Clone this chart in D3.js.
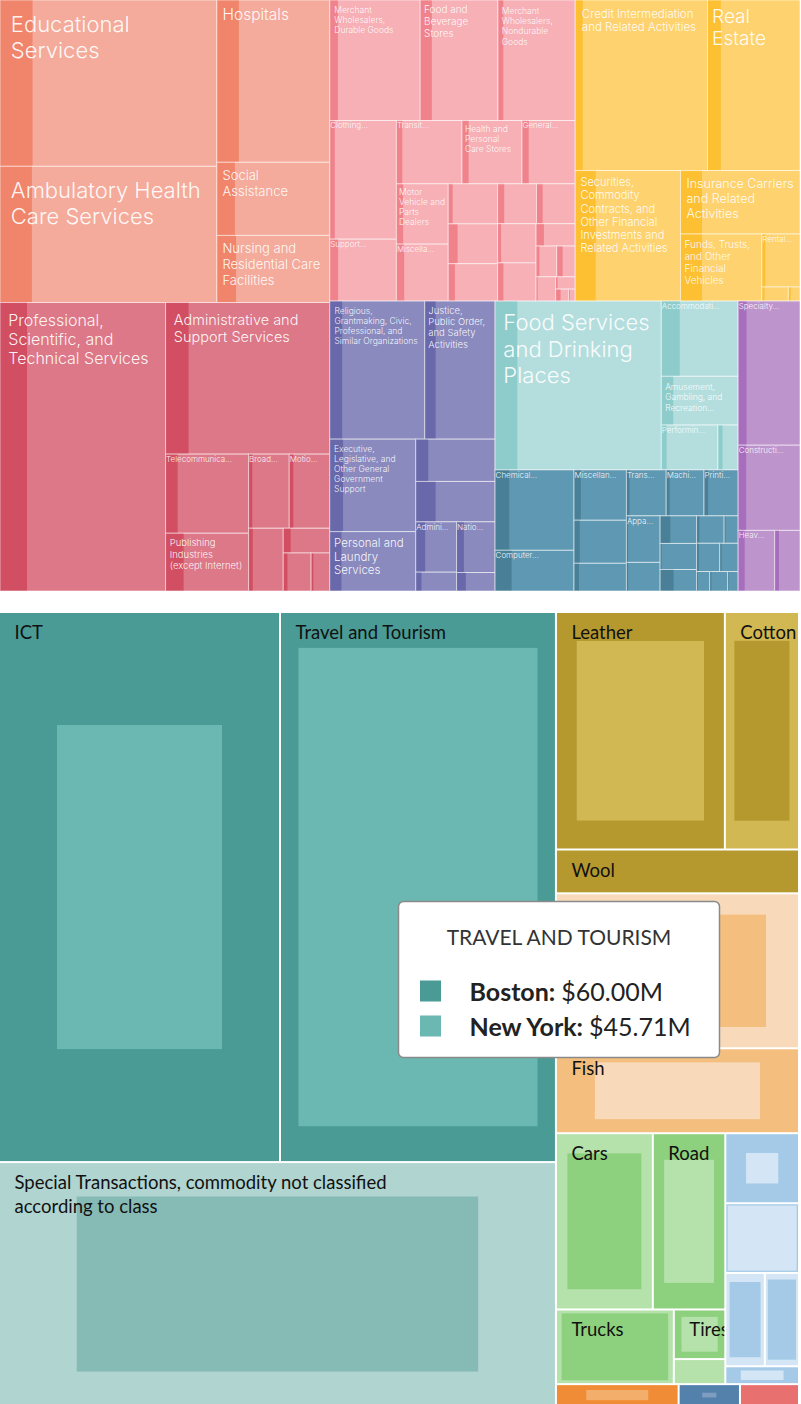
<!DOCTYPE html>
<html><head><meta charset="utf-8">
<script src="https://cdn.jsdelivr.net/npm/d3@7"></script>
<style>
html,body{margin:0;padding:0;background:#fff;}
svg{display:block;}
</style></head><body>
<svg id="chart" width="801" height="1404"></svg>
<script>
// ================= DATA: industry treemap (top) =================
const topGroups = ["Education and Health", "Professional, Business and Information Services", "Trade and Transportation", "Finance, Insurance and Real Estate", "Public Administration and Other Services", "Leisure and Hospitality", "Manufacturing", "Construction"];

const healthNames = ["Educational Services", "Ambulatory Health Care Services", "Hospitals", "Social Assistance", "Nursing and Residential Care Facilities"];
const healthValues = [36022, 29512, 18306, 8249, 7571];
const healthShares = [0.15, 0.147, 0.195, 0.16, 0.17];

const proNames = ["Professional, Scientific, and Technical Services", "Administrative and Support Services", "Telecommunications", "Publishing Industries (except Internet)", "Broadcasting (except Internet)", "Motion Picture and Sound Recording Industries", "", "", "", ""];
const proValues = [47722, 24859, 6557, 4789, 3010, 3000, 2173, 1150, 1058, 708];
const proShares = [0.163, 0.14, 0.145, 0.217, 0.09, 0.1, 0.12, 0.16, 0.15, 0.12];

const tradeNames = ["Merchant Wholesalers, Durable Goods", "Food and Beverage Stores", "Merchant Wholesalers, Nondurable Goods", "Clothing and Clothing Accessories Stores", "Support Activities for Transportation", "Transit and Ground Passenger Transportation", "Health and Personal Care Stores", "General Merchandise Stores", "Motor Vehicle and Parts Dealers", "Miscellaneous Store Retailers", "", "", "", "", "", "", "", "", "", "", "", "", "", ""];
const tradeValues = [10884, 9360, 9300, 7900, 4120, 4150, 3798, 3368, 3120, 2948, 1975, 1965, 1843, 1548, 1542, 1505, 1467, 874, 635, 568, 473, 240, 156, 78];
const tradeShares = [0.09, 0.15, 0.07, 0.075, 0.125, 0.09, 0.11, 0.126, 0.13, 0.15, 0.09, 0.19, 0.135, 0.17, 0.16, 0.09, 0.15, 0.2, 0.16, 0.32, 0.08, 0.1, 0.38, 0.2];

const financeNames = ["Credit Intermediation and Related Activities", "Real Estate", "Securities, Commodity Contracts, and Other Financial Investments and Related Activities", "Insurance Carriers and Related Activities", "Funds, Trusts, and Other Financial Vehicles", "Rental and Leasing Services", "", ""];
const financeValues = [22542, 15759, 13728, 7577, 5449, 2018, 372, 164];
const financeShares = [0.057, 0.144, 0.195, 0.18, 0.265, 0.09, 0.1, 0.2];

const publicNames = ["Religious, Grantmaking, Civic, Professional, and Similar Organizations", "Justice, Public Order, and Safety Activities", "Executive, Legislative, and Other General Government Support", "Personal and Laundry Services", "", "", "Administration of Human Resource Programs", "", "National Security and International Affairs", ""];
const publicValues = [13100, 9700, 7946, 5100, 3350, 3200, 2050, 767, 1949, 711];
const publicShares = [0.13, 0.155, 0.155, 0.136, 0.157, 0.25, 0.23, 0.14, 0.19, 0.24];

const leisureNames = ["Food Services and Drinking Places", "Accommodation", "Amusement, Gambling, and Recreation Industries", "Performing Arts, Spectator Sports, and Related Industries", "Museums, Historical Sites, and Similar Institutions"];
const leisureValues = [28039, 5775, 3742, 2534, 907];
const leisureShares = [0.134, 0.24, 0.156, 0.094, 0.23];

const mfgNames = ["Chemical Manufacturing", "Computer and Electronic Product Manufacturing", "Miscellaneous Manufacturing", "", "", "Transportation Equipment Manufacturing", "Machinery Manufacturing", "Printing and Related Support Activities", "Apparel Manufacturing", "", "", "", "", "", "", "", "", "", "", ""];
const mfgValues = [6342, 3210, 2636, 2253, 1451, 1828, 1737, 1568, 1566, 964, 1003, 948, 782, 756, 384, 653, 520, 255, 350, 205];
const mfgShares = [0.18, 0.21, 0.13, 0.11, 0.095, 0.08, 0.09, 0.12, 0.05, 0.05, 0.28, 0.04, 0.37, 0.1, 0.1, 0.1, 0.1, 0.1, 0.1, 0.1];

const constructionNames = ["Specialty Trade Contractors", "Construction of Buildings", "Heavy and Civil Engineering Construction", ""];
const constructionValues = [8903, 5263, 2209, 1536];
const constructionShares = [0.136, 0.13, 0.18, 0.17];

// ================= DATA: trade comparison treemap (bottom) =================
const productGroups = ["Services", "Textiles", "Animal Products", "Transportation", "Machinery", "Metals", "Chemicals", "Minerals"];
const products = ["ICT", "Travel and Tourism", "Special Transactions, commodity not classified according to class", "Leather", "Cotton", "Wool", "", "Fish", "Cars", "Road", "Trucks", "Tires", "", "", "", "", "", "", "", "", ""];
const productGroupIndex = [0, 0, 0, 1, 1, 1, 2, 2, 3, 3, 3, 3, 3, 4, 4, 4, 4, 4, 5, 6, 7];
const bostonValues = [61.10, 60.00, 28.10, 15.86, 4.06, 4.21, 8.04, 8.16, 4.10, 5.05, 2.94, 1.01, 0, 2.04, 2.03, 0.99, 0.97, 0.52, 1.06, 0.53, 0.51];
const newYorkValues = [21.37, 45.71, 53.70, 9.22, 6.96, 0, 14.89, 3.83, 6.75, 2.52, 3.48, 0.54, 0.51, 0.41, 1.88, 1.46, 1.26, 0.185, 0.28, 0.03, 0];
const cities = ["Boston", "New York"];
const tooltipProduct = "Travel and Tourism";

// ================= STYLES =================
const topPalette = [
  {cell: "#F4AB9B", bar: "#F0856C"},
  {cell: "#DC7887", bar: "#D24E62"},
  {cell: "#F6B0B6", bar: "#F0828C"},
  {cell: "#FED26E", bar: "#FCC032"},
  {cell: "#8A8ABE", bar: "#6868AA"},
  {cell: "#B4DEDE", bar: "#8ECCCC"},
  {cell: "#5F98B2", bar: "#498098"},
  {cell: "#BE94CC", bar: "#A86EBE"}
];
const groupShades = [
  ["#4A9A95", "#6BB8B2"], ["#B5992F", "#D2B853"], ["#F4BE7E", "#F8DABA"], ["#8DD07D", "#B5E2AB"],
  ["#A4CAE8", "#D4E6F5"], ["#F08C35", "#F4AE6C"], ["#5480AC", "#7E9DC0"], ["#E8706E", "#F09A98"]
];
const shadeOverride = {"Special Transactions, commodity not classified according to class": ["#86BAB5", "#B0D4D0"]};
const groupTileRatio = {"Manufacturing": 1.1};

const svg = d3.select("#chart");
const TOPFONT = "Inter, 'Helvetica Neue', Arial, sans-serif";
const TOPWEIGHT = 300;
const canvas = document.createElement("canvas");
const ctx = canvas.getContext("2d");
function measure(t, fs, font, weight) { ctx.font = `${weight || TOPWEIGHT} ${fs}px ${font || TOPFONT}`; return ctx.measureText(t).width; }
function wrapWords(words, fs, maxW, font, weight) {
  const lines = []; let cur = "";
  for (const w of words) {
    const t = cur ? cur + " " + w : w;
    if (!cur || measure(t, fs, font, weight) <= maxW) cur = t; else { lines.push(cur); cur = w; }
  }
  if (cur) lines.push(cur);
  return lines;
}

// ================= TOP TREEMAP =================
const topNames = [healthNames, proNames, tradeNames, financeNames, publicNames, leisureNames, mfgNames, constructionNames];
const topValues = [healthValues, proValues, tradeValues, financeValues, publicValues, leisureValues, mfgValues, constructionValues];
const topShares = [healthShares, proShares, tradeShares, financeShares, publicShares, leisureShares, mfgShares, constructionShares];

const topRoot = d3.hierarchy({
  name: "root",
  children: topGroups.map((g, i) => ({
    name: g, gi: i,
    children: topNames[i].map((n, j) => ({name: n, value: topValues[i][j], share: topShares[i][j], gi: i}))
  }))
}).sum(d => d.value || 0);

const baseTile = d3.treemapSquarify.ratio(1);
function topTile(node, x0, y0, x1, y1) {
  const r = groupTileRatio[node.data.name];
  (r ? d3.treemapSquarify.ratio(r) : baseTile)(node, x0, y0, x1, y1);
}
d3.treemap().size([800, 591]).tile(topTile)(topRoot);

function truncateLine(words, fs, limit) {
  let k = 0;
  while (k < words.length && measure(words.slice(0, k + 1).join(" "), fs) <= limit) k++;
  let base;
  if (k === 0) base = words[0];
  else if (k > 1 && k < words.length) base = words.slice(0, k - 1).join(" ");
  else base = words.slice(0, Math.max(k, 1)).join(" ");
  base = base.replace(/,$/, "");
  let out = base + "...";
  while (base.length > 1 && measure(out, fs) > limit) { base = base.slice(0, -1); out = base + "..."; }
  return out;
}

function fitTopLabel(name, w, h) {
  if (!name || w < 30 || h < 40) return null;
  const words = name.split(/\s+/);
  const pad = w * 0.05;
  const lineW = w - 2 * pad;
  for (let fs = 22; fs >= 8.5; fs -= 0.5) {
    const longest = d3.max(words, s => measure(s, fs));
    if (longest > w * 0.59) continue;
    const lines = wrapWords(words, fs, lineW);
    if (lines.length * fs * 1.2 <= h * 0.72) return {fs, lines, dx: pad, dy: pad + fs * 0.95};
  }
  const fs = 8.5;
  const longest = d3.max(words, s => measure(s, fs));
  if (longest <= w * 0.72) {
    let lines = wrapWords(words, fs, lineW);
    const maxLines = Math.max(1, Math.floor(h * 0.72 / (fs * 1.2)));
    if (lines.length > maxLines) {
      lines = lines.slice(0, maxLines);
      let last = lines[maxLines - 1];
      while (last.length > 1 && measure(last + "...", fs) > lineW) last = last.slice(0, -1);
      lines[maxLines - 1] = last + "...";
    }
    return {fs, lines, dx: Math.min(pad, 4), dy: Math.min(pad, 4) + fs * 0.95 + 2};
  }
  const fs2 = 8;
  return {fs: fs2, lines: [truncateLine(words, fs2, w * 0.8)], dx: 0.5, dy: 8};
}

const topG = svg.append("g");
const topCells = topG.selectAll("g.cell").data(topRoot.leaves()).join("g")
  .attr("class", "cell")
  .attr("transform", d => `translate(${d.x0},${d.y0})`);
topCells.append("rect")
  .attr("width", d => d.x1 - d.x0).attr("height", d => d.y1 - d.y0)
  .attr("fill", d => topPalette[d.data.gi].cell);
topCells.append("rect")
  .attr("width", d => (d.x1 - d.x0) * d.data.share).attr("height", d => d.y1 - d.y0)
  .attr("fill", d => topPalette[d.data.gi].bar);
topCells.append("rect")
  .attr("width", d => d.x1 - d.x0).attr("height", d => d.y1 - d.y0)
  .attr("fill", "none").attr("stroke", "rgba(255,255,255,0.55)").attr("stroke-width", 1);
topCells.each(function(d) {
  const lab = fitTopLabel(d.data.name, d.x1 - d.x0, d.y1 - d.y0);
  if (!lab) return;
  const t = d3.select(this).append("text")
    .attr("font-family", TOPFONT).attr("font-weight", TOPWEIGHT).attr("font-size", lab.fs)
    .attr("fill", "rgba(255,255,255,0.93)");
  lab.lines.forEach((ln, i) => {
    t.append("tspan").attr("x", lab.dx).attr("y", lab.dy + i * lab.fs * 1.2).text(ln);
  });
});

// ================= BOTTOM TREEMAP =================
const BOTFONT = "Lato, 'Open Sans', sans-serif";
const botTop = 613;
const botRoot = d3.hierarchy({
  name: "root",
  children: productGroups.map((g, gi) => ({
    name: g, gi,
    children: products.map((p, i) => ({name: p, idx: i, gi, boston: bostonValues[i], ny: newYorkValues[i]}))
      .filter(d => productGroupIndex[d.idx] === gi)
  }))
}).sum(d => d.children ? 0 : Math.max(d.boston, d.ny));

d3.treemap().size([798, 792]).paddingInner(2).tile(d3.treemapSquarify)(botRoot);

const botG = svg.append("g").attr("transform", `translate(0,${botTop})`);
const defs = svg.append("defs");
const botCells = botG.selectAll("g.bcell").data(botRoot.leaves()).join("g")
  .attr("class", "bcell")
  .attr("transform", d => `translate(${d.x0},${d.y0})`);

function shades(d) { return shadeOverride[d.data.name] || groupShades[d.data.gi]; }
botCells.each(function(d, i) {
  const g = d3.select(this);
  const w = d.x1 - d.x0, h = d.y1 - d.y0;
  const [bCol, nCol] = shades(d);
  const big = Math.max(d.data.boston, d.data.ny), small = Math.min(d.data.boston, d.data.ny);
  const bostonBigger = d.data.boston >= d.data.ny;
  g.append("rect").attr("width", w).attr("height", h).attr("fill", bostonBigger ? bCol : nCol);
  if (small > 0) {
    const k = Math.sqrt(small / big);
    g.append("rect")
      .attr("x", w * (1 - k) / 2).attr("y", h * (1 - k) / 2)
      .attr("width", w * k).attr("height", h * k)
      .attr("fill", bostonBigger ? nCol : bCol);
  }
  if (d.data.name) {
    const cid = "bclip" + i;
    defs.append("clipPath").attr("id", cid).append("rect").attr("width", w).attr("height", h);
    const words = d.data.name.split(/\s+/);
    const lines = wrapWords(words, 18.5, w * 0.75, BOTFONT, 400);
    const t = g.append("text").attr("font-family", BOTFONT).attr("font-size", 18.5).attr("fill", "#111")
      .attr("clip-path", `url(#${cid})`);
    lines.forEach((ln, j) => t.append("tspan").attr("x", 14.5).attr("y", 26 + j * 24).text(ln));
  }
});

// ================= TOOLTIP =================
const ti = products.indexOf(tooltipProduct);
const money = v => d3.format("$,.2f")(v) + "M";
const tip = svg.append("g").attr("transform", "translate(398.5,901.5)");
tip.append("rect").attr("width", 321).attr("height", 156).attr("rx", 5)
  .attr("fill", "#fff").attr("stroke", "#8a8a8a").attr("stroke-width", 1.5);
tip.append("text").attr("x", 160.5).attr("y", 43).attr("text-anchor", "middle")
  .attr("font-family", BOTFONT).attr("font-size", 21).attr("fill", "#333")
  .text(tooltipProduct.toUpperCase());
const tipShades = shadeOverride[tooltipProduct] || groupShades[productGroupIndex[ti]];
const tipVals = [bostonValues[ti], newYorkValues[ti]];
cities.forEach((c, j) => {
  const y = 79 + j * 35;
  tip.append("rect").attr("x", 21.5).attr("y", y).attr("width", 21).attr("height", 21).attr("fill", tipShades[j]);
  const t = tip.append("text").attr("x", 71).attr("y", y + 20).attr("font-family", BOTFONT).attr("font-size", 25).attr("fill", "#222");
  t.append("tspan").attr("font-weight", 700).text(c + ": ");
  t.append("tspan").attr("font-weight", 400).text(money(tipVals[j]));
});
</script></body></html>
